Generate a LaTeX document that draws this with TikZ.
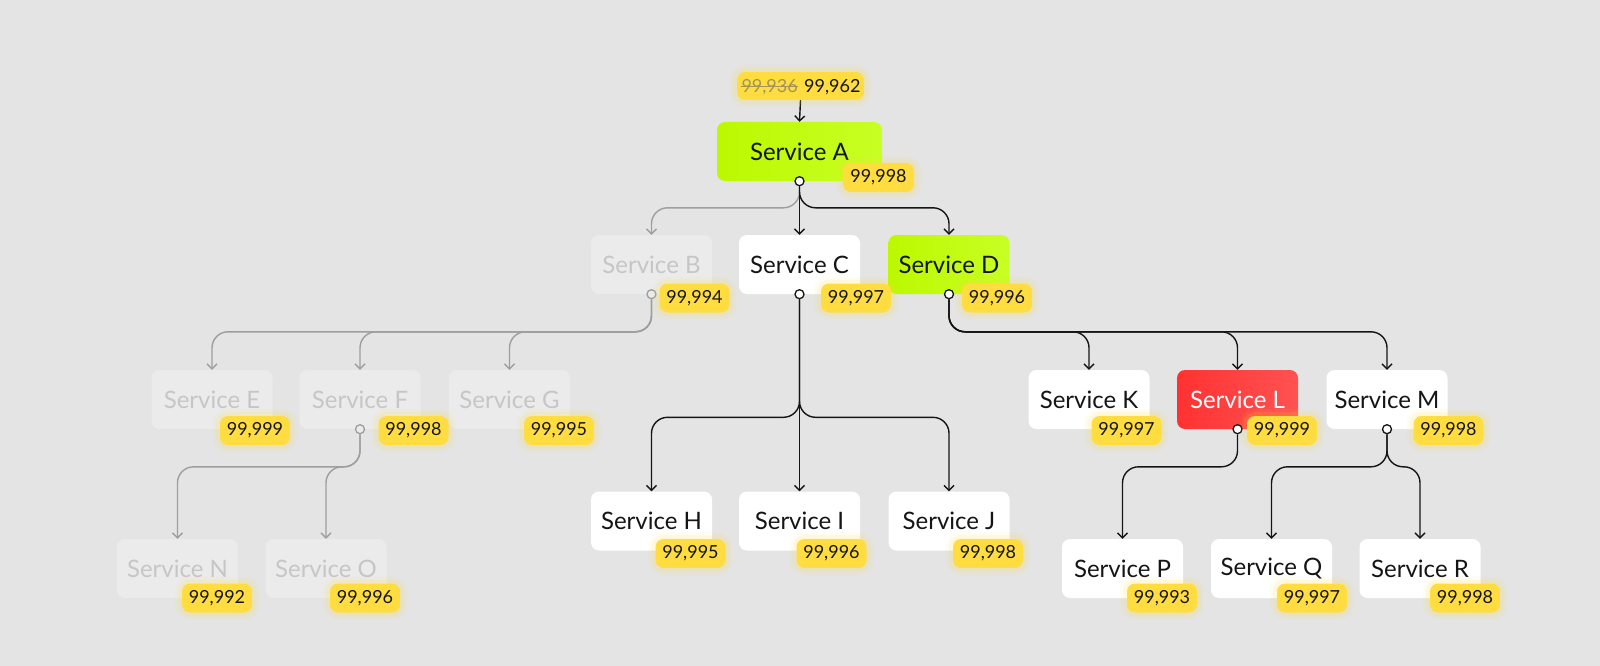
\documentclass[tikz,border=0pt]{standalone}
\usepackage{fontspec}
\setmainfont{Lato}
\usetikzlibrary{arrows.meta,backgrounds}
\definecolor{bg}{HTML}{E4E4E4}
\definecolor{ink}{HTML}{151515}
\definecolor{fadefill}{HTML}{EBEBEB}
\definecolor{fadetext}{HTML}{C6C6C6}
\definecolor{fadeline}{HTML}{9E9E9E}
\definecolor{lime1}{HTML}{BCF800}
\definecolor{lime2}{HTML}{C8FF24}
\definecolor{red1}{HTML}{FF3232}
\definecolor{red2}{HTML}{FF5252}
\definecolor{badgey}{HTML}{FFDD40}
\definecolor{strikec}{HTML}{A3945A}
\begin{document}
\begin{tikzpicture}[x=1pt,y=-1pt,
  svc/.style={rectangle, rounded corners=8pt, minimum width=121pt, minimum height=59pt,
    inner sep=0pt, font=\fontsize{24}{27}\selectfont, text=ink},
  wbox/.style={svc, fill=white},
  fbox/.style={svc, fill=fadefill, text=fadetext},
  gbox/.style={svc, left color=lime1, right color=lime2, text=ink},
  rbox/.style={svc, left color=red1, right color=red2, text=white},
  badge/.style={rectangle, rounded corners=8pt, fill=badgey, minimum width=70pt,
    minimum height=29pt, inner sep=0pt, font=\fontsize{18}{21}\selectfont, text=ink,
    preaction={draw=badgey, line width=14pt, draw opacity=0.07},
    preaction={draw=badgey, line width=8pt, draw opacity=0.12}},
  btext/.style={inner sep=0pt, font=\fontsize{18}{21}\selectfont, text=ink},
  dot/.style={circle, draw=ink, fill=white, line width=1.3pt, minimum size=9pt, inner sep=0pt},
  fdot/.style={dot, draw=fadeline, fill=fadefill},
  conn/.style={draw=ink, line width=1.4pt, rounded corners=16pt,
    -{Straight Barb[length=5pt,width=10pt]}},
  fconn/.style={conn, draw=fadeline}]

\begin{scope}[on background layer]
\fill[bg] (0,0) rectangle (1600,666);
\end{scope}
\useasboundingbox (0,0) rectangle (1600,666);

% boxes
\node[gbox, minimum width=165pt] (A) at (799.5,151.5) {Service A};
\node[fbox] (B) at (651.5,264.5) {Service B};
\node[wbox] (C) at (799.5,264.5) {Service C};
\node[gbox] (D) at (949,264.5) {Service D};
\node[fbox] (E) at (212,399.5) {Service E};
\node[fbox] (F) at (360,399.5) {Service F};
\node[fbox] (G) at (509.5,399.5) {Service G};
\node[wbox] (K) at (1089,399.5) {Service K};
\node[rbox] (L) at (1237.5,399.5) {Service L};
\node[wbox] (M) at (1387,399.5) {Service M};
\node[wbox] (H) at (651.5,521) {Service H};
\node[wbox] (I) at (799.5,521) {Service I};
\node[wbox] (J) at (949,521) {Service J};
\node[fbox] (N) at (177.5,568.5) {Service N};
\node[fbox] (O) at (326,568.5) {Service O};
\node[wbox] (P) at (1122.5,568.5) {Service P};
\node[wbox] (Q) at (1271.5,568.5) {Service Q};
\node[wbox] (R) at (1420,568.5) {Service R};

% top badge
\node[badge, minimum width=127pt, minimum height=28pt] (top) at (800.5,86) {};
\node[btext, text=strikec, anchor=base east] (old) at (798,92.5) {99,936};
\node[btext, anchor=base west] (new) at (804,92.5) {99,962};
\draw[strikec, line width=1pt] ([yshift=6pt]old.base west) -- ([yshift=6pt]old.base east);

% dots
\node[dot] (Ad) at (A.south) {};
\node[fdot] (Bd) at (B.south) {};
\node[dot] (Cd) at (C.south) {};
\node[dot] (Dd) at (D.south) {};
\node[fdot] (Fd) at (F.south) {};
\node[dot] (Ld) at (L.south) {};
\node[dot] (Md) at (M.south) {};

% badges
\node[badge, minimum width=71pt] (Ab) at (878.5,177.5) {99,998};
\node[badge] (Bb) at (694.5,298) {99,994};
\node[badge] (Cb) at (856,298) {99,997};
\node[badge] (Db) at (997,298) {99,996};
\node[badge] (Eb) at (255,430.5) {99,999};
\node[badge] (Fb) at (413.5,430.5) {99,998};
\node[badge] (Gb) at (559,430.5) {99,995};
\node[badge] (Kb) at (1126.5,430.5) {99,997};
\node[badge] (Lb) at (1282,430.5) {99,999};
\node[badge] (Mb) at (1448.5,430.5) {99,998};
\node[badge] (Hb) at (690.5,553.5) {99,995};
\node[badge] (Ib) at (831.5,553.5) {99,996};
\node[badge] (Jb) at (988,553.5) {99,998};
\node[badge] (Nb) at (217,598) {99,992};
\node[badge] (Ob) at (365,598) {99,996};
\node[badge] (Pb) at (1162,598) {99,993};
\node[badge] (Qb) at (1312,598) {99,997};
\node[badge] (Rb) at (1465,598) {99,998};

% connectors
\begin{scope}[on background layer]
\draw[conn] (top.south) -- (A.north);
\draw[fconn] (Ad.south) |- ([yshift=27pt]B.north) -- (B.north);
\draw[conn] (Ad.south) -- (C.north);
\draw[conn] (Ad.south) |- ([yshift=27pt]D.north) -- (D.north);
\draw[fconn] (Bd.south) |- ([yshift=38pt]E.north) -- (E.north);
\draw[fconn] (Bd.south) |- ([yshift=38pt]F.north) -- (F.north);
\draw[fconn] (Bd.south) |- ([yshift=38pt]G.north) -- (G.north);
\draw[conn] (Cd.south) |- ([yshift=74pt]H.north) -- (H.north);
\draw[conn] (Cd.south) -- (I.north);
\draw[conn] (Cd.south) |- ([yshift=74pt]J.north) -- (J.north);
\draw[conn] (Dd.south) |- ([yshift=38pt]K.north) -- (K.north);
\draw[conn] (Dd.south) |- ([yshift=38pt]L.north) -- (L.north);
\draw[conn] (Dd.south) |- ([yshift=38pt]M.north) -- (M.north);
\draw[fconn] (Fd.south) |- ([yshift=72pt]N.north) -- (N.north);
\draw[fconn] (Fd.south) |- ([yshift=72pt]O.north) -- (O.north);
\draw[conn] (Ld.south) |- ([yshift=72pt]P.north) -- (P.north);
\draw[conn] (Md.south) |- ([yshift=72pt]Q.north) -- (Q.north);
\draw[conn] (Md.south) |- ([yshift=72pt]R.north) -- (R.north);
\end{scope}
\end{tikzpicture}
\end{document}
